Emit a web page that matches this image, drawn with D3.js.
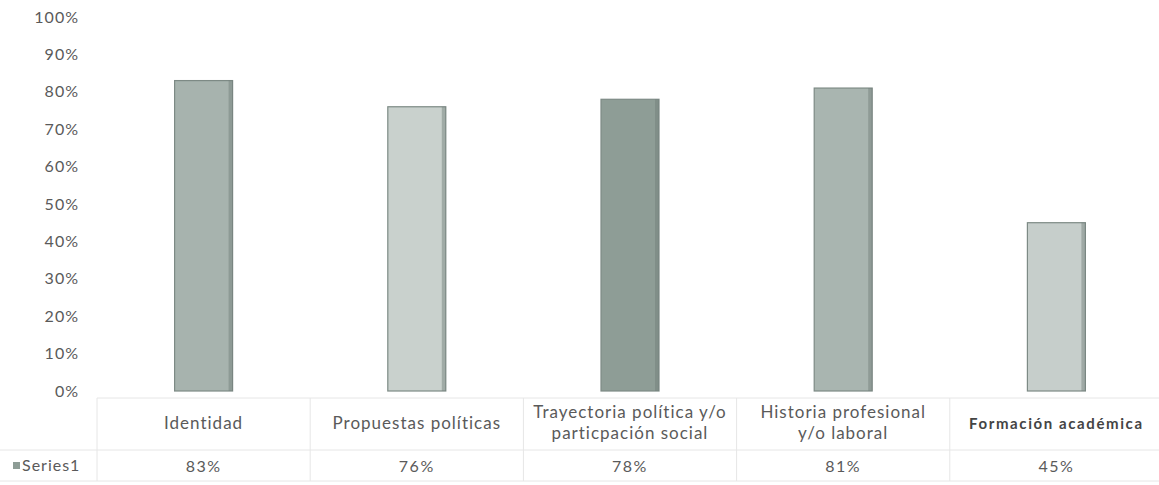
<!DOCTYPE html>
<html lang="es">
<head>
<meta charset="UTF-8">
<script src="https://d3js.org/d3.v7.min.js"></script>
<style>
  body { margin: 0; background: #fff; }
  text { font-family: Lato, "Open Sans", sans-serif; fill: #5a5a5a; }
</style>
</head>
<body>
<div id="chart"></div>
<script>
// data
var categories = ["Identidad", "Propuestas políticas", "Trayectoria política y/o|particpación social", "Historia profesional|y/o laboral", "Formación académica"];
var values = [0.83, 0.76, 0.78, 0.81, 0.45];
var valueLabels = ["83%", "76%", "78%", "81%", "45%"];
var barColors = ["#a7b3ae", "#c9d1cd", "#8e9d96", "#a9b5b0", "#c6cecb"];
var yTicks = [0, 0.1, 0.2, 0.3, 0.4, 0.5, 0.6, 0.7, 0.8, 0.9, 1];
var seriesName = "Series1";

var W = 1159, H = 485;
var svg = d3.select("#chart").append("svg")
  .attr("width", W).attr("height", H);

var x = d3.scaleBand().domain(categories).range([97, 1163]).paddingInner(0).paddingOuter(0);
var y = d3.scaleLinear().domain([0, 1]).range([391, 17]);
var barW = 58;

// y axis labels
svg.append("g").selectAll("text").data(yTicks).enter().append("text")
  .attr("x", 79).attr("y", function(d) { return y(d); })
  .attr("dy", "0.35em")
  .attr("text-anchor", "end")
  .style("font-size", "16px")
  .style("letter-spacing", "1px")
  .text(d3.format(".0%"));

// bars
var bars = svg.append("g");
categories.forEach(function(c, i) {
  var cx = x(c) + x.bandwidth() / 2;
  bars.append("rect")
    .attr("x", cx - barW / 2).attr("y", y(values[i]))
    .attr("width", barW).attr("height", y(0) - y(values[i]))
    .attr("fill", barColors[i])
    .attr("stroke", "#7d8a85").attr("stroke-width", 1.2);
  // darker right edge like the scanned bevel
  bars.append("rect")
    .attr("x", cx + barW / 2 - 4).attr("y", y(values[i]))
    .attr("width", 4).attr("height", y(0) - y(values[i]))
    .attr("fill", "#6f7c77").attr("opacity", 0.45);
});

// data table lines
var grid = svg.append("g").attr("stroke", "#e6e6e6").attr("stroke-width", 1);
grid.append("line").attr("x1", 97).attr("x2", 1159).attr("y1", 398).attr("y2", 398);
grid.append("line").attr("x1", 0).attr("x2", 1159).attr("y1", 450).attr("y2", 450);
grid.append("line").attr("x1", 0).attr("x2", 1159).attr("y1", 481).attr("y2", 481);
grid.append("line").attr("x1", 97).attr("x2", 97).attr("y1", 398).attr("y2", 481);
categories.forEach(function(c, i) {
  if (i > 0) grid.append("line").attr("x1", x(c)).attr("x2", x(c)).attr("y1", 398).attr("y2", 481);
});

// category labels
var labels = svg.append("g");
categories.forEach(function(c, i) {
  var cx = x(c) + x.bandwidth() / 2;
  var lines = c.split("|");
  var last = i === categories.length - 1;
  var t = labels.append("text")
    .attr("text-anchor", "middle")
    .style("font-size", last ? "15px" : "17px")
    .style("letter-spacing", last ? "1.6px" : "1px")
    .style("font-weight", last ? "bold" : "normal")
    .style("fill", last ? "#444" : "#5a5a5a");
  lines.forEach(function(l, k) {
    t.append("tspan").attr("x", cx)
      .attr("y", (lines.length === 1 ? 429 : 418 + k * 21))
      .text(l);
  });
  labels.append("text")
    .attr("x", cx).attr("y", 472)
    .attr("text-anchor", "middle")
    .style("font-size", "16px")
    .style("letter-spacing", "1.5px")
    .text(valueLabels[i]);
});

// legend key in table
svg.append("rect").attr("x", 13).attr("y", 462).attr("width", 7).attr("height", 7).attr("fill", "#8e9d96");
svg.append("text").attr("x", 22).attr("y", 471).style("font-size", "16px").style("letter-spacing", "1px").text(seriesName);
</script>
</body>
</html>
